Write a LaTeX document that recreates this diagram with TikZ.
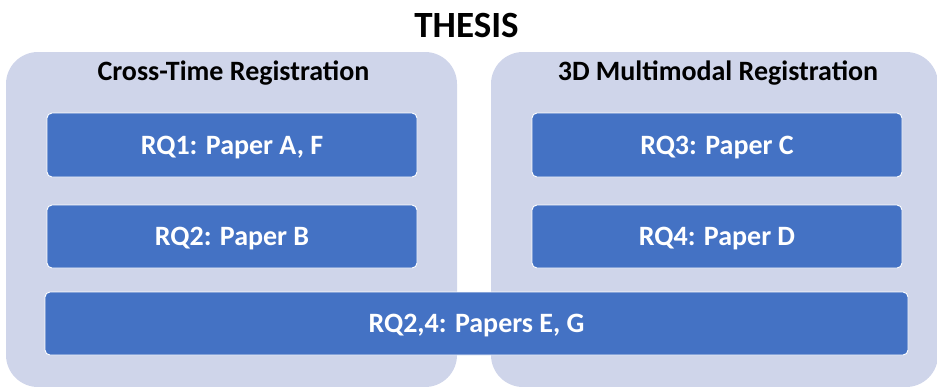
\documentclass[tikz,border=0pt]{standalone}
\usepackage{fontspec}
\setmainfont{Carlito}
\definecolor{panelfill}{HTML}{CFD5EA}
\definecolor{boxfill}{HTML}{4472C4}
\begin{document}
\begin{tikzpicture}[x=1pt,y=-1pt,
  panel/.style={fill=panelfill, rounded corners=32pt, inner sep=0pt, outer sep=0pt},
  heading/.style={font=\fontsize{28}{30}\selectfont\bfseries, text height=18pt, text depth=0pt, inner sep=0pt},
  rqbox/.style={fill=boxfill, draw=white, line width=0.9pt, rounded corners=5pt,
    text=white, font=\fontsize{28}{30}\selectfont\bfseries,
    text height=18pt, text depth=0pt, inner sep=0pt, outer sep=0pt},
  toptitle/.style={font=\fontsize{37}{40}\selectfont\bfseries, text height=24pt, text depth=0pt, inner sep=0pt}
]
\useasboundingbox (0,0) rectangle (937,386);
\clip (0,0) rectangle (937,386);

% background panels
\node[panel, minimum width=451pt, minimum height=335pt] (ctpanel) at (231.5,219.5) {};
\node[panel, minimum width=447pt, minimum height=335pt] (mmpanel) at (714.5,219.5) {};

% titles
\node[toptitle] (thesis) at (466.5,25) {THESIS};
\node[heading] (cttitle) at (233.5,71) {Cross-Time Registration};
\node[heading] (mmtitle) at (718,71) {3D Multimodal Registration};

% research question boxes
\node[rqbox, minimum width=370pt, minimum height=64pt] (rq1) at (232,145) {RQ1: Paper A, F};
\node[rqbox, minimum width=370pt, minimum height=63pt] (rq2) at (232,236.5) {RQ2: Paper B};
\node[rqbox, minimum width=370pt, minimum height=64pt] (rq3) at (717,145) {RQ3: Paper C};
\node[rqbox, minimum width=370pt, minimum height=63pt] (rq4) at (717,236.5) {RQ4: Paper D};
\node[rqbox, minimum width=863pt, minimum height=63pt] (rq24) at (476.5,323.5) {RQ2,4: Papers E, G};
\end{tikzpicture}
\end{document}
